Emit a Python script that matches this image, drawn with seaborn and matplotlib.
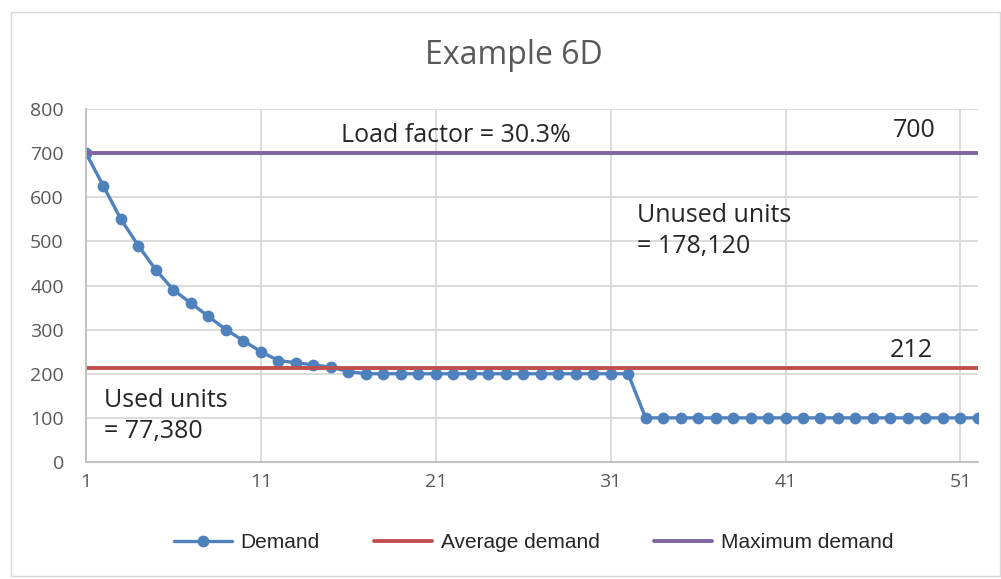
import numpy as np
import pandas as pd
import seaborn as sns
import matplotlib.pyplot as plt
from matplotlib.patches import Rectangle

# データ
weeks = list(range(1, 53))
demand = [700, 625, 550, 490, 435, 390, 360, 330, 300, 275, 250, 230, 225, 220, 215, 205] \
    + [200] * 16 + [100] * 20
average_demand = 212
maximum_demand = 700
x_ticks = [1, 11, 21, 31, 41, 51]
y_ticks = [0, 100, 200, 300, 400, 500, 600, 700, 800]

df = pd.DataFrame({"week": weeks, "demand": demand})

sns.set_style("white")
plt.rcParams["font.family"] = ["Open Sans", "DejaVu Sans"]

fig = plt.figure(figsize=(10.01, 5.79), dpi=100)
ax = fig.add_axes([0.0859, 0.2021, 0.891, 0.6096])

sns.lineplot(data=df, x="week", y="demand", ax=ax, color="#4F81BD", linewidth=2.4,
             marker="o", markersize=8.5, markeredgewidth=0, label="Demand")
ax.axhline(average_demand, color="#C0504D", linewidth=2.8, label="Average demand")
ax.axhline(maximum_demand, color="#8064A2", linewidth=2.8, label="Maximum demand")

ax.set_xlim(1, 52)
ax.set_ylim(0, 800)
ax.set_xticks(x_ticks)
ax.set_yticks(y_ticks)
ax.grid(True, color="#D9D9D9", linewidth=1.3)
ax.set_axisbelow(True)
ax.set_xlabel("")
ax.set_ylabel("")
for s in ["top", "right"]:
    ax.spines[s].set_visible(False)
for s in ["left", "bottom"]:
    ax.spines[s].set_color("#BFBFBF")
    ax.spines[s].set_linewidth(1.3)
ax.tick_params(axis="both", length=0, labelsize=14, labelcolor="#595959")
ax.tick_params(axis="y", pad=16)
ax.tick_params(axis="x", pad=8)

fig.text(0.513, 0.905, "Example 6D", ha="center", va="center", fontsize=23, color="#595959")

# 注記
ax.text(0.286, 0.926, "Load factor = 30.3%", transform=ax.transAxes, fontsize=18, va="center")
ax.text(0.905, 0.94, "700", transform=ax.transAxes, fontsize=18, va="center")
ax.text(0.618, 0.654, "Unused units\n= 178,120", transform=ax.transAxes, fontsize=18,
        va="center", linespacing=1.35)
ax.text(0.901, 0.317, "212", transform=ax.transAxes, fontsize=18, va="center")
ax.text(0.02, 0.13, "Used units\n= 77,380", transform=ax.transAxes, fontsize=18,
        va="center", linespacing=1.35)

ax.get_legend().remove()
handles, labels = ax.get_legend_handles_labels()
fig.legend(handles, labels, loc="center", bbox_to_anchor=(0.533, 0.063), ncol=3,
           frameon=False, handlelength=2.8, handletextpad=0.4, columnspacing=2.6,
           prop={"family": ["Liberation Sans", "DejaVu Sans"], "size": 15})

fig.patches.append(Rectangle((0.011, 0.005), 0.988, 0.975, transform=fig.transFigure,
                             fill=False, edgecolor="#D9D9D9", linewidth=1))

fig.savefig("out.png", dpi=100)
